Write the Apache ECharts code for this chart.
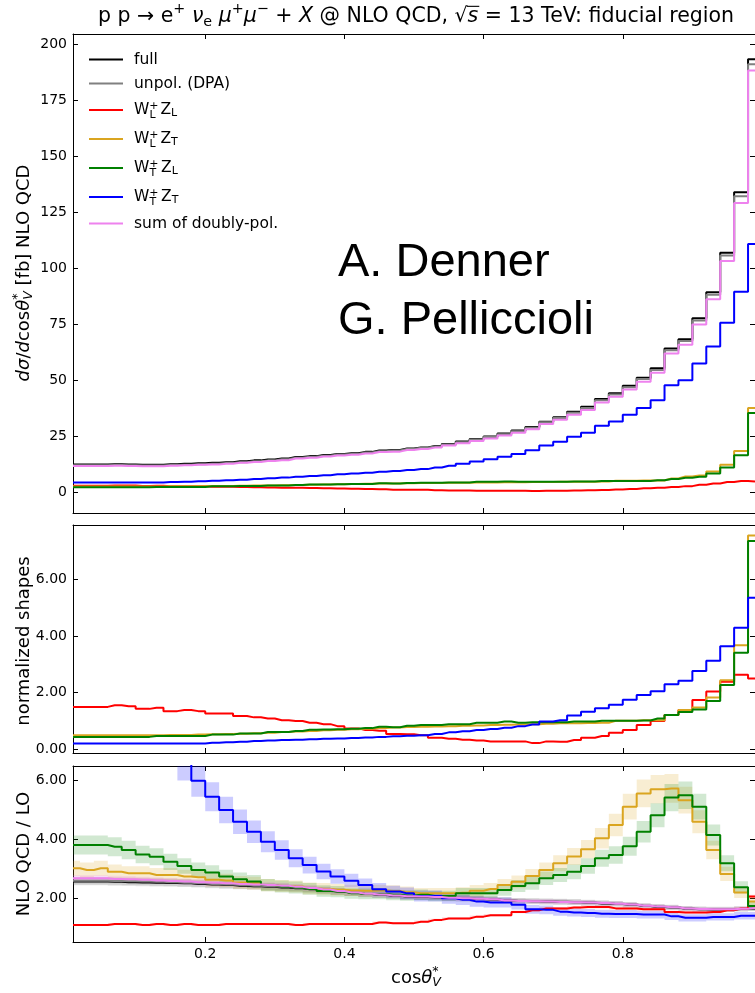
<!DOCTYPE html>
<html>
<head>
<meta charset="utf-8">
<title>pp → e+ νe μ+μ− + X, cosθ*_V distribution</title>
<script src="https://cdn.jsdelivr.net/npm/echarts@6.0.0/dist/echarts.min.js"></script>
<style>
html, body { margin: 0; padding: 0; background: #ffffff; }
#chart { width: 755px; height: 993px; }
</style>
</head>
<body>
<div id="chart"></div>
<script>
// ---------------------------------------------------------------------------
// Binning: cos(theta*_V), bins of width 0.02, given by their centres
// ---------------------------------------------------------------------------
const cosBins = [0.01,0.03,0.05,0.07,0.09,0.11,0.13,0.15,0.17,0.19,
                 0.21,0.23,0.25,0.27,0.29,0.31,0.33,0.35,0.37,0.39,
                 0.41,0.43,0.45,0.47,0.49,0.51,0.53,0.55,0.57,0.59,
                 0.61,0.63,0.65,0.67,0.69,0.71,0.73,0.75,0.77,0.79,
                 0.81,0.83,0.85,0.87,0.89,0.91,0.93,0.95,0.97,0.99];
const binHalfWidth = 0.01;

// tick positions
const xTicks = [0.2, 0.4, 0.6, 0.8];
const xsTicks = [0, 25, 50, 75, 100, 125, 150, 175, 200];
const shapeTicks = [0, 2, 4, 6];
const ratioTicks = [2, 4, 6];

// ---------------------------------------------------------------------------
// Upper panel: d sigma / d cos theta*_V [fb] at NLO QCD
// ---------------------------------------------------------------------------
const fullXS = [12.3,12.3,12.3,12.4,12.3,12.2,12.2,12.4,12.6,12.8,
                13.0,13.3,13.7,14.1,14.5,14.9,15.6,16.0,16.5,17.0,
                17.3,17.9,18.5,18.7,19.4,19.9,20.5,21.4,22.5,23.6,
                24.8,26.1,27.4,29.0,31.4,33.4,35.8,38.0,41.5,44.1,
                47.4,51.0,55.2,64.1,68.2,77.6,89.2,106.8,133.8,193.2];
const unpolXS = [11.9,11.9,11.9,12.0,11.9,11.8,11.8,12.0,12.2,12.4,
                 12.6,12.9,13.3,13.7,14.1,14.6,15.3,15.7,16.2,16.7,
                 17.0,17.6,18.2,18.5,19.2,19.7,20.3,21.2,22.2,23.4,
                 24.5,25.8,27.1,28.7,31.1,33.0,35.4,37.5,41.0,43.5,
                 46.8,50.4,54.5,63.3,67.4,76.6,88.1,105.6,132.0,191.0];
const wlzlXS = [2.81,2.81,2.81,2.92,2.84,2.67,2.75,2.52,2.60,2.52,
                2.37,2.37,2.21,2.11,2.04,1.93,1.87,1.76,1.66,1.53,
                1.38,1.27,1.23,1.01,0.99,0.94,0.77,0.69,0.64,0.58,
                0.52,0.52,0.52,0.41,0.52,0.50,0.62,0.77,0.88,1.10,
                1.27,1.61,1.87,2.26,2.60,3.25,3.81,4.47,4.94,4.68];
const wlztXS = [2.48,2.48,2.48,2.48,2.48,2.48,2.48,2.53,2.53,2.58,
                2.63,2.68,2.73,2.83,2.93,3.03,3.12,3.22,3.32,3.42,
                3.52,3.62,3.72,3.82,3.92,3.97,4.02,4.07,4.12,4.17,
                4.27,4.32,4.36,4.41,4.46,4.56,4.56,4.61,4.66,5.01,
                5.01,5.11,5.11,6.00,6.89,7.34,9.08,12.1,18.3,37.5];
const wtzlXS = [2.11,2.11,2.11,2.11,2.11,2.11,2.26,2.26,2.26,2.26,
                2.50,2.50,2.69,2.69,2.93,2.93,3.12,3.31,3.36,3.41,
                3.50,3.60,3.84,3.74,3.98,4.13,4.13,4.27,4.27,4.51,
                4.51,4.70,4.51,4.61,4.61,4.61,4.70,4.70,4.85,4.85,
                4.85,4.90,5.23,5.81,6.34,6.77,8.21,10.9,16.4,35.3];
const wtztXS = [4.2,4.2,4.2,4.2,4.2,4.2,4.2,4.4,4.6,4.8,
                5.0,5.2,5.5,5.8,6.1,6.4,6.8,7.1,7.5,7.9,
                8.2,8.6,9.0,9.4,9.8,10.2,10.9,11.7,12.6,13.6,
                14.6,15.7,17.0,18.6,20.7,22.4,24.6,26.4,29.6,31.5,
                34.5,37.5,41.0,47.7,49.9,57.4,64.9,75.6,89.4,110.7];
const sumXS = [11.6,11.6,11.6,11.7,11.6,11.5,11.5,11.7,11.9,12.1,
               12.3,12.6,13.0,13.4,13.8,14.2,14.9,15.3,15.8,16.3,
               16.6,17.2,17.8,18.0,18.7,19.2,19.8,20.7,21.7,22.8,
               23.9,25.2,26.4,28.0,30.3,32.2,34.5,36.6,40.0,42.5,
               45.7,49.2,53.2,61.8,65.7,74.8,86.0,103.1,129.0,188.2];

// ---------------------------------------------------------------------------
// Middle panel: normalised shapes of the doubly-polarised signals
// ---------------------------------------------------------------------------
const wlzlShape = [1.50,1.50,1.50,1.56,1.52,1.43,1.47,1.35,1.39,1.35,
                   1.27,1.27,1.18,1.13,1.09,1.03,1.00,0.94,0.89,0.82,
                   0.74,0.68,0.66,0.54,0.53,0.50,0.41,0.37,0.34,0.31,
                   0.28,0.28,0.28,0.22,0.28,0.27,0.33,0.41,0.47,0.59,
                   0.68,0.86,1.00,1.21,1.39,1.74,2.04,2.39,2.64,2.50];
const wlztShape = [0.50,0.50,0.50,0.50,0.50,0.50,0.50,0.51,0.51,0.52,
                   0.53,0.54,0.55,0.57,0.59,0.61,0.63,0.65,0.67,0.69,
                   0.71,0.73,0.75,0.77,0.79,0.80,0.81,0.82,0.83,0.84,
                   0.86,0.87,0.88,0.89,0.90,0.92,0.92,0.93,0.94,1.01,
                   1.01,1.03,1.03,1.21,1.39,1.48,1.83,2.44,3.68,7.56];
const wtzlShape = [0.44,0.44,0.44,0.44,0.44,0.44,0.47,0.47,0.47,0.47,
                   0.52,0.52,0.56,0.56,0.61,0.61,0.65,0.69,0.70,0.71,
                   0.73,0.75,0.80,0.78,0.83,0.86,0.86,0.89,0.89,0.94,
                   0.94,0.98,0.94,0.96,0.96,0.96,0.98,0.98,1.01,1.01,
                   1.01,1.02,1.09,1.21,1.32,1.41,1.71,2.27,3.41,7.36];
const wtztShape = [0.21,0.21,0.21,0.21,0.21,0.21,0.21,0.21,0.21,0.21,
                   0.23,0.25,0.27,0.29,0.31,0.33,0.34,0.36,0.37,0.38,
                   0.40,0.42,0.44,0.46,0.48,0.50,0.54,0.60,0.64,0.68,
                   0.72,0.76,0.82,0.88,0.98,1.03,1.20,1.33,1.45,1.58,
                   1.75,1.92,2.05,2.30,2.42,2.77,3.13,3.64,4.30,5.36];

// ---------------------------------------------------------------------------
// Lower panel: NLO QCD / LO ratio, with relative scale-uncertainty half-widths
// ---------------------------------------------------------------------------
const fullK = [2.58,2.58,2.58,2.57,2.56,2.55,2.54,2.53,2.52,2.50,
               2.48,2.46,2.44,2.42,2.40,2.38,2.35,2.32,2.28,2.24,
               2.20,2.16,2.13,2.10,2.07,2.06,2.05,2.02,2.00,1.99,
               1.97,1.94,1.92,1.91,1.90,1.89,1.88,1.86,1.84,1.82,
               1.79,1.75,1.72,1.70,1.66,1.64,1.63,1.63,1.65,1.67];
const unpolK = [2.61,2.61,2.61,2.60,2.59,2.58,2.57,2.56,2.54,2.52,
                2.50,2.48,2.46,2.44,2.42,2.40,2.37,2.33,2.29,2.25,
                2.21,2.17,2.14,2.11,2.08,2.07,2.06,2.03,2.01,2.00,
                1.98,1.95,1.93,1.92,1.91,1.90,1.89,1.87,1.85,1.83,
                1.80,1.76,1.73,1.71,1.67,1.65,1.64,1.64,1.66,1.68];
const wlzlK = [1.11,1.11,1.11,1.14,1.14,1.11,1.14,1.11,1.14,1.11,
               1.11,1.14,1.14,1.14,1.14,1.14,1.11,1.14,1.14,1.14,
               1.14,1.14,1.19,1.17,1.17,1.22,1.28,1.33,1.33,1.39,
               1.44,1.44,1.55,1.61,1.67,1.67,1.70,1.72,1.72,1.67,
               1.67,1.64,1.64,1.55,1.53,1.53,1.55,1.61,1.67,2.07];
const wlztK = [3.03,2.97,3.03,2.91,2.86,2.86,2.80,2.80,2.75,2.73,
               2.64,2.62,2.55,2.53,2.46,2.43,2.41,2.35,2.33,2.30,
               2.28,2.27,2.28,2.26,2.22,2.18,2.18,2.18,2.20,2.27,
               2.33,2.46,2.57,2.77,2.97,3.20,3.43,3.68,4.05,4.50,
               5.12,5.57,5.71,5.74,5.34,4.61,3.65,2.84,2.21,1.90];
const wtzlK = [3.82,3.82,3.82,3.76,3.65,3.50,3.42,3.25,3.11,2.97,
               2.89,2.75,2.66,2.58,2.46,2.41,2.38,2.33,2.26,2.24,
               2.18,2.16,2.16,2.13,2.11,2.13,2.09,2.09,2.18,2.18,
               2.18,2.29,2.43,2.52,2.69,2.80,2.91,3.11,3.37,3.48,
               3.78,4.27,4.83,5.43,5.51,5.12,4.16,3.20,2.39,1.75];
const wtztK = [11.0,10.4,9.8,9.2,8.6,8.1,7.6,7.2,6.6,6.00,
               5.46,5.01,4.61,4.27,3.93,3.65,3.37,3.14,2.92,2.75,
               2.61,2.46,2.32,2.24,2.18,2.09,2.09,2.01,1.96,1.90,
               1.87,1.87,1.79,1.64,1.62,1.56,1.53,1.51,1.49,1.48,
               1.48,1.46,1.46,1.40,1.35,1.35,1.38,1.38,1.42,1.42];
const sumK = [2.69,2.69,2.69,2.67,2.66,2.64,2.62,2.60,2.58,2.56,
              2.54,2.52,2.50,2.48,2.46,2.44,2.40,2.36,2.31,2.26,
              2.21,2.17,2.14,2.11,2.08,2.07,2.06,2.03,2.01,2.00,
              1.98,1.94,1.92,1.91,1.90,1.89,1.88,1.87,1.85,1.83,
              1.80,1.76,1.73,1.71,1.67,1.65,1.64,1.64,1.66,1.68];
// relative half-width of the scale band, order: full, unpol, WLZL, WLZT, WTZL, WTZT, sum
const bandKeys = ['full', 'unpol', 'wlzl', 'wlzt', 'wtzl', 'wtzt', 'sum'];
const bandRelWidth = [0.05, 0.05, 0.03, 0.085, 0.085, 0.09, 0.04];

// ---------------------------------------------------------------------------
// Styling
// ---------------------------------------------------------------------------
const DJ = 'DejaVu Sans';
const INK = '#000000';
const seriesKeys = ['full', 'unpol', 'wlzl', 'wlzt', 'wtzl', 'wtzt', 'sum'];
const seriesColor = {
  full: '#000000', unpol: '#808080', wlzl: '#ff0000', wlzt: '#daa520',
  wtzl: '#008000', wtzt: '#0000ff', sum: '#ee82ee'
};
const bandColor = {
  full: 'rgba(0,0,0,0.10)', unpol: 'rgba(128,128,128,0.22)', wlzl: 'rgba(255,0,0,0.13)',
  wlzt: 'rgba(218,165,32,0.2)', wtzl: 'rgba(0,128,0,0.18)', wtzt: 'rgba(0,0,255,0.2)',
  sum: 'rgba(238,130,238,0.22)'
};
const legendLabel = {
  full: '{n|full}',
  unpol: '{n|unpol. (DPA)}',
  wlzl: '{n|W}{sp|+}{sw|L}{n| Z}{sb|L}',
  wlzt: '{n|W}{sp|+}{sw|L}{n| Z}{sb|T}',
  wtzl: '{n|W}{sp|+}{sw|T}{n| Z}{sb|L}',
  wtzt: '{n|W}{sp|+}{sw|T}{n| Z}{sb|T}',
  sum: '{n|sum of doubly-pol.}'
};

const xsData = { full: fullXS, unpol: unpolXS, wlzl: wlzlXS, wlzt: wlztXS, wtzl: wtzlXS, wtzt: wtztXS, sum: sumXS };
const shapeData = { wlzl: wlzlShape, wlzt: wlztShape, wtzl: wtzlShape, wtzt: wtztShape };
const ratioData = { full: fullK, unpol: unpolK, wlzl: wlzlK, wlzt: wlztK, wtzl: wtzlK, wtzt: wtztK, sum: sumK };

// panel frames
const panelGrids = [
  { left: 73, top: 34, width: 684, height: 479 },
  { left: 73, top: 525, width: 684, height: 228 },
  { left: 73, top: 766, width: 684, height: 176 }
];
const xRange = [0.01, 0.99];
const yRanges = [[-9.4, 204.5], [-0.13, 7.93], [0.53, 6.5]];
const yTickSets = [xsTicks, shapeTicks, ratioTicks];
const yFormat = [v => String(v), v => v.toFixed(2), v => v.toFixed(2)];

function xAxisFor(g, pos, withLabels) {
  return {
    gridIndex: g, type: 'value', min: xRange[0], max: xRange[1], position: pos,
    axisLine: { show: true, onZero: false, lineStyle: { color: INK, width: 1 } },
    axisTick: { show: true, inside: true, length: 5, customValues: xTicks, lineStyle: { color: INK, width: 1 } },
    axisLabel: { show: withLabels, customValues: xTicks, formatter: v => v.toFixed(1),
                 color: INK, fontFamily: DJ, fontSize: 14, margin: 5 },
    splitLine: { show: false }, minorTick: { show: false }
  };
}
function yAxisFor(g, pos, withLabels) {
  return {
    gridIndex: g, type: 'value', min: yRanges[g][0], max: yRanges[g][1], position: pos,
    axisLine: { show: true, onZero: false, lineStyle: { color: INK, width: 1 } },
    axisTick: { show: true, inside: true, length: 5, customValues: yTickSets[g], lineStyle: { color: INK, width: 1 } },
    axisLabel: { show: withLabels, customValues: yTickSets[g], formatter: yFormat[g],
                 color: INK, fontFamily: DJ, fontSize: 14, margin: 6 },
    splitLine: { show: false }, minorTick: { show: false }
  };
}

const xAxes = [], yAxes = [];
for (let g = 0; g < 3; g++) {
  xAxes.push(xAxisFor(g, 'bottom', g === 2), xAxisFor(g, 'top', false));
  yAxes.push(yAxisFor(g, 'left', true), yAxisFor(g, 'right', false));
}

function pairs(values) { return cosBins.map((c, i) => [c, values[i]]); }

function stepSeries(key, values, g) {
  return {
    type: 'line', name: key, xAxisIndex: 2 * g, yAxisIndex: 2 * g,
    data: pairs(values), step: 'middle', symbol: 'none', showSymbol: false,
    lineStyle: { color: seriesColor[key], width: 2 },
    itemStyle: { color: seriesColor[key] },
    emphasis: { disabled: true }, silent: true, z: 3
  };
}

// scale-uncertainty envelopes of the ratio panel, one stepped polygon per curve
const bandSeries = {
  type: 'custom', name: 'scale bands', xAxisIndex: 4, yAxisIndex: 4,
  silent: true, z: 2, clip: true,
  data: bandKeys.map((k, i) => [0.5, 2, i]),
  encode: { x: 0, y: 1 },
  renderItem: function (params, api) {
    const idx = params.dataIndex;
    const key = bandKeys[idx];
    const rel = bandRelWidth[idx];
    const k = ratioData[key];
    const lim = yRanges[2];
    const clampY = v => Math.min(lim[1], Math.max(lim[0], v));
    const upper = [], lower = [];
    cosBins.forEach((c, i) => {
      const x0 = Math.max(xRange[0], c - binHalfWidth);
      const x1 = Math.min(xRange[1], c + binHalfWidth);
      const hi = clampY(k[i] * (1 + rel));
      const lo = clampY(k[i] * (1 - rel));
      upper.push(api.coord([x0, hi]), api.coord([x1, hi]));
      lower.push(api.coord([x0, lo]), api.coord([x1, lo]));
    });
    return {
      type: 'polygon', silent: true,
      shape: { points: upper.concat(lower.reverse()) },
      style: { fill: bandColor[key], stroke: null }
    };
  }
};

const series = [];
seriesKeys.forEach(k => series.push(stepSeries(k, xsData[k], 0)));
['wlzl', 'wlzt', 'wtzl', 'wtzt'].forEach(k => series.push(stepSeries(k, shapeData[k], 1)));
series.push(bandSeries);
seriesKeys.forEach(k => series.push(stepSeries(k, ratioData[k], 2)));

// ---------------------------------------------------------------------------
// Math-style labels laid out token by token (super/subscripts, stacked scripts)
// ---------------------------------------------------------------------------
const measureCtx = document.createElement('canvas').getContext('2d');
function textWidth(t, size, italic) {
  measureCtx.font = (italic ? 'italic ' : '') + size + 'px "' + DJ + '"';
  return measureCtx.measureText(t).width;
}
function mathLabel(tokens, size, cx, cy, rotation) {
  let x = 0, pendingW = 0;
  const kids = [];
  tokens.forEach(tk => {
    const fs = size * (tk.s || 1);
    const w = textWidth(tk.t, fs, tk.it);
    kids.push({
      type: 'text', x: x, y: -(tk.dy || 0) * size, silent: true,
      style: { text: tk.t, fontSize: fs, fontFamily: DJ, fontStyle: tk.it ? 'italic' : 'normal',
               fill: INK, align: 'left', verticalAlign: 'middle' }
    });
    if (tk.over) {
      kids.push({ type: 'line', silent: true,
        shape: { x1: x - 1, y1: -0.52 * size, x2: x + w + 1, y2: -0.52 * size },
        style: { stroke: INK, lineWidth: 1.1 } });
    }
    if (tk.stack) { pendingW = w; }
    else { x += Math.max(w, pendingW); pendingW = 0; }
  });
  kids.forEach(k => {
    if (k.type === 'text') k.x -= x / 2;
    else { k.shape.x1 -= x / 2; k.shape.x2 -= x / 2; }
  });
  return { type: 'group', x: cx, y: cy, rotation: rotation || 0, silent: true, children: kids };
}

const SUP = 0.36, SUB = -0.24, SC = 0.7;
const titleTokens = [
  { t: 'p p' }, { t: ' → ' }, { t: 'e' }, { t: '+', s: SC, dy: SUP }, { t: ' ' },
  { t: 'ν', it: true }, { t: 'e', s: SC, dy: SUB }, { t: ' ' },
  { t: 'μ', it: true }, { t: '+', s: SC, dy: SUP }, { t: 'μ', it: true }, { t: '−', s: SC, dy: SUP },
  { t: ' + ' }, { t: 'X', it: true }, { t: ' @ NLO QCD, ' }, { t: '√' }, { t: 's', it: true, over: true },
  { t: ' = 13 TeV: fiducial region' }
];
const yTopTokens = [
  { t: 'd', it: true }, { t: 'σ', it: true }, { t: '/' }, { t: 'd', it: true }, { t: 'cos' },
  { t: 'θ', it: true }, { t: '*', s: SC, dy: SUP, stack: true }, { t: 'V', s: SC, dy: SUB, it: true },
  { t: ' [fb] NLO QCD' }
];
const xLabelTokens = [
  { t: 'cos' }, { t: 'θ', it: true }, { t: '*', s: SC, dy: SUP, stack: true }, { t: 'V', s: SC, dy: SUB, it: true }
];

const graphics = [
  mathLabel(titleTokens, 20.5, 416, 17, 0),
  mathLabel(yTopTokens, 18, 24, 273, Math.PI / 2),
  mathLabel([{ t: 'normalized shapes' }], 18, 24, 641, Math.PI / 2),
  mathLabel([{ t: 'NLO QCD / LO' }], 18, 24, 854, Math.PI / 2),
  mathLabel(xLabelTokens, 18, 416, 978, 0),
  { type: 'text', x: 338, y: 263, silent: true, z: 10,
    style: { text: 'A. Denner', fontFamily: 'Liberation Sans', fontSize: 47, fill: INK,
             align: 'left', verticalAlign: 'middle' } },
  { type: 'text', x: 338, y: 321, silent: true, z: 10,
    style: { text: 'G. Pelliccioli', fontFamily: 'Liberation Sans', fontSize: 47, fill: INK,
             align: 'left', verticalAlign: 'middle' } }
];

const chart = echarts.init(document.getElementById('chart'), null, { renderer: 'canvas' });
chart.setOption({
  animation: false,
  backgroundColor: '#ffffff',
  grid: panelGrids,
  xAxis: xAxes,
  yAxis: yAxes,
  legend: {
    data: seriesKeys, orient: 'vertical', left: 89, top: 51, padding: 0,
    itemWidth: 34, itemHeight: 2, itemGap: 7, icon: 'rect', selectedMode: false,
    formatter: k => legendLabel[k],
    textStyle: {
      fontFamily: DJ, fontSize: 15.5, color: INK, lineHeight: 17, padding: [0, 0, 0, 6],
      rich: {
        n: { fontFamily: DJ, fontSize: 15.5, color: INK, lineHeight: 17 },
        sp: { fontFamily: DJ, fontSize: 11, color: INK, lineHeight: 17, padding: [0, 0, 7, 0], width: 0.1 },
        sw: { fontFamily: DJ, fontSize: 11, color: INK, lineHeight: 17, padding: [11, 0, 0, 0] },
        sb: { fontFamily: DJ, fontSize: 11, color: INK, lineHeight: 17, padding: [7, 0, 0, 0] }
      }
    }
  },
  series: series,
  graphic: graphics
});
</script>
</body>
</html>
